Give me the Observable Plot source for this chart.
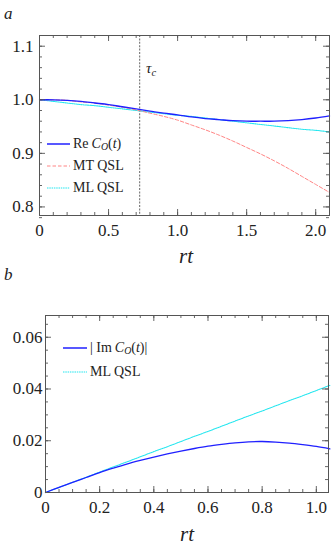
<!DOCTYPE html>
<html><head><meta charset="utf-8">
<script src="https://cdn.jsdelivr.net/npm/d3@7"></script>
<script src="https://cdn.jsdelivr.net/npm/@observablehq/plot@0.6"></script>
<style>
body{margin:0;background:#fff;}
#wrap{position:relative;width:332px;height:548px;font-family:"Liberation Serif","DejaVu Serif",serif;color:#222;overflow:hidden;}
#wrap svg.plot{position:absolute;left:0;}
#wrap svg.plot text{font-family:"Liberation Serif","DejaVu Serif",serif;}
.lab{position:absolute;white-space:nowrap;line-height:1;}
.leg{position:absolute;white-space:nowrap;font-size:14px;line-height:1;display:flex;align-items:center;}
.leg svg{margin-right:3px;}
sub{font-size:70%;vertical-align:-0.25em;line-height:0;}
</style></head><body><div id="wrap"></div>
<script>
// ---------- panel a ----------
const tA = [0,0.1,0.2,0.3,0.4,0.5,0.6,0.7,0.8,0.9,1.0,1.1,1.2,1.3,1.4,1.5,1.6,1.7,1.8,1.9,2.0,2.1];
const reC = [1.000,1.000,0.999,0.997,0.994,0.991,0.987,0.983,0.979,0.975,0.972,0.968,0.965,0.963,0.961,0.960,0.960,0.960,0.961,0.963,0.966,0.970];
const mtQSL = [1.000,1.000,0.999,0.996,0.994,0.990,0.986,0.981,0.975,0.969,0.962,0.953,0.944,0.934,0.923,0.911,0.899,0.886,0.872,0.857,0.842,0.827];
const mlQSLa = [1.000,0.997,0.994,0.991,0.989,0.986,0.983,0.980,0.977,0.974,0.971,0.969,0.966,0.963,0.960,0.957,0.954,0.951,0.948,0.945,0.943,0.940];
const tauC = 0.725;
const xTicksA = [0,0.5,1,1.5,2];
const xLabelsA = ["0","0.5","1.0","1.5","2.0"];
const yTicksA = [0.8,0.9,1.0,1.1];
const yLabelsA = ["0.8","0.9","1.0","1.1"];
const xMinorA = d3.range(0,2.11,0.1);
const yMinorA = d3.range(0.78,1.121,0.02);

// ---------- panel b ----------
const tB = [0,0.05,0.1,0.15,0.2,0.25,0.3,0.35,0.4,0.45,0.5,0.55,0.6,0.65,0.7,0.75,0.8,0.85,0.9,0.95,1.0,1.05];
const imC = [0,0.00197,0.0039,0.0058,0.0077,0.0094,0.0110,0.0124,0.0137,0.0149,0.0160,0.0170,0.0179,0.0186,0.0192,0.0196,0.0197,0.0195,0.0191,0.0185,0.0178,0.0169];
const mlQSLb = [0,0.00197,0.00394,0.0059,0.0079,0.0099,0.0118,0.0138,0.0158,0.0177,0.0197,0.0217,0.0236,0.0256,0.0276,0.0296,0.0315,0.0335,0.0355,0.0374,0.0394,0.0414];
const xTicksB = [0,0.2,0.4,0.6,0.8,1.0];
const xLabelsB = ["0","0.2","0.4","0.6","0.8","1.0"];
const yTicksB = [0,0.02,0.04,0.06];
const yLabelsB = ["0","0.02","0.04","0.06"];
const xMinorB = d3.range(0,1.046,0.05);
const yMinorB = d3.range(0,0.0685,0.005);

const BLUE = "#2020ff", PINK = "#ff8585", CYAN = "#22e6ef", FRAME = "#555";
const FONT = "'Liberation Serif','DejaVu Serif',serif";
const font = {fontSize:"17px", fontFamily: FONT, background:"transparent", overflow:"visible"};

function ticksMarks(xMaj, xMin, yMaj, yMin, fw, fh) {
  const s = {stroke: FRAME, strokeWidth: 0.9};
  return [
    Plot.tickX(xMin, {x: d => d, insetTop: fh - 3, ...s}),
    Plot.tickX(xMin, {x: d => d, insetBottom: fh - 3, ...s}),
    Plot.tickX(xMaj, {x: d => d, insetTop: fh - 6, ...s}),
    Plot.tickX(xMaj, {x: d => d, insetBottom: fh - 6, ...s}),
    Plot.tickY(yMin, {y: d => d, insetRight: fw - 3, ...s}),
    Plot.tickY(yMin, {y: d => d, insetLeft: fw - 3, ...s}),
    Plot.tickY(yMaj, {y: d => d, insetRight: fw - 6, ...s}),
    Plot.tickY(yMaj, {y: d => d, insetLeft: fw - 6, ...s})
  ];
}

const wrap = document.getElementById("wrap");

// panel a
const A = {w:332, h:262, mt:35, mb:47, ml:39, mr:3};
const fwA = A.w - A.ml - A.mr, fhA = A.h - A.mt - A.mb;
const dataA = tA.map((t,i) => ({t, re: reC[i], mt: mtQSL[i], ml: mlQSLa[i]}));
const plotA = Plot.plot({
  width: A.w, height: A.h, marginTop: A.mt, marginBottom: A.mb, marginLeft: A.ml, marginRight: A.mr,
  style: font,
  x: {domain: [0, 2.1]},
  y: {domain: [0.784, 1.12]},
  marks: [
    Plot.ruleX([tauC], {x: d => d, stroke: "#808080", strokeWidth: 1.2, strokeDasharray: "2,1.4"}),
    Plot.line(dataA, {x: "t", y: "ml", stroke: CYAN, strokeWidth: 1.05, strokeDasharray: "1.5,0.8", curve: "catmull-rom"}),
    Plot.line(dataA, {x: "t", y: "mt", stroke: PINK, strokeWidth: 1, strokeDasharray: "3.5,2", curve: "catmull-rom"}),
    Plot.line(dataA, {x: "t", y: "re", stroke: BLUE, strokeWidth: 1.3, curve: "catmull-rom"}),
    ...ticksMarks(xTicksA, xMinorA, yTicksA, yMinorA, fwA, fhA),
    Plot.frame({stroke: FRAME, strokeWidth: 1}),
    Plot.axisX(xTicksA, {anchor: "bottom", tickSize: 0, tickPadding: 8, label: null, tickFormat: d => xLabelsA[xTicksA.indexOf(d)], fill: "#222", fontFamily: FONT}),
    Plot.axisY(yTicksA, {anchor: "left", tickSize: 0, tickPadding: 6, label: null, tickFormat: d => yLabelsA[yTicksA.indexOf(d)], fill: "#222", fontFamily: FONT})
  ]
});
plotA.classList.add("plot");
plotA.style.top = "0px";
wrap.appendChild(plotA);

// panel b
const B = {w:332, h:280, top:268, mt:47, mb:56, ml:45, mr:4};
const fwB = B.w - B.ml - B.mr, fhB = B.h - B.mt - B.mb;
const dataB = tB.map((t,i) => ({t, im: imC[i], ml: mlQSLb[i]}));
const plotB = Plot.plot({
  width: B.w, height: B.h, marginTop: B.mt, marginBottom: B.mb, marginLeft: B.ml, marginRight: B.mr,
  style: font,
  x: {domain: [0, 1.045]},
  y: {domain: [0, 0.0684]},
  marks: [
    Plot.line(dataB, {x: "t", y: "ml", stroke: CYAN, strokeWidth: 1.05, strokeDasharray: "1.5,0.8"}),
    Plot.line(dataB, {x: "t", y: "im", stroke: BLUE, strokeWidth: 1.3, curve: "catmull-rom"}),
    ...ticksMarks(xTicksB, xMinorB, yTicksB, yMinorB, fwB, fhB),
    Plot.frame({stroke: FRAME, strokeWidth: 1}),
    Plot.axisX(xTicksB, {anchor: "bottom", tickSize: 0, tickPadding: 8, label: null, tickFormat: d => xLabelsB[xTicksB.indexOf(d)], fill: "#222", fontFamily: FONT}),
    Plot.axisY(yTicksB, {anchor: "left", tickSize: 0, tickPadding: 3, label: null, tickFormat: d => yLabelsB[yTicksB.indexOf(d)], fill: "#222", fontFamily: FONT})
  ]
});
plotB.classList.add("plot");
plotB.style.top = B.top + "px";
wrap.appendChild(plotB);

// text overlays
function lab(html, left, top, size, extra) {
  const d = document.createElement("div");
  d.className = "lab";
  d.innerHTML = html;
  d.style.left = left + "px"; d.style.top = top + "px"; d.style.fontSize = size + "px";
  if (extra) Object.assign(d.style, extra);
  wrap.appendChild(d);
  return d;
}
lab("<i>a</i>", 4, 5, 17);
lab("<i>b</i>", 4, 266, 17);
lab("<i>rt</i>", 186, 246, 21, {transform: "translateX(-50%)"});
lab("<i>rt</i>", 187, 524, 21, {transform: "translateX(-50%)"});
lab("<i>τ</i><sub><i>c</i></sub>", 146, 61, 15);

function legRow(left, top, sw, color, dash, width, html) {
  const d = document.createElement("div");
  d.className = "leg";
  d.style.left = left + "px"; d.style.top = top + "px"; d.style.height = "0px";
  d.innerHTML = `<svg width="${sw}" height="4"><line x1="0" y1="2" x2="${sw}" y2="2" stroke="${color}" stroke-width="${width}" ${dash ? `stroke-dasharray="${dash}"` : ""}/></svg><span>${html}</span>`;
  wrap.appendChild(d);
}
legRow(47, 144, 23, BLUE, null, 1.5, "Re<span style='margin-left:3px'><i>C</i><sub><i>O</i></sub>(<i>t</i>)</span>");
legRow(47, 166, 23, PINK, "3.5,2", 1, "MT QSL");
legRow(47, 188, 23, CYAN, "1.5,0.8", 1.05, "ML QSL");
legRow(63, 348, 24, BLUE, null, 1.5, "| Im<span style='margin-left:3px'><i>C</i><sub><i>O</i></sub>(<i>t</i>)|</span>");
legRow(63, 372, 24, CYAN, "1.5,0.8", 1.05, "ML QSL");
</script></body></html>
